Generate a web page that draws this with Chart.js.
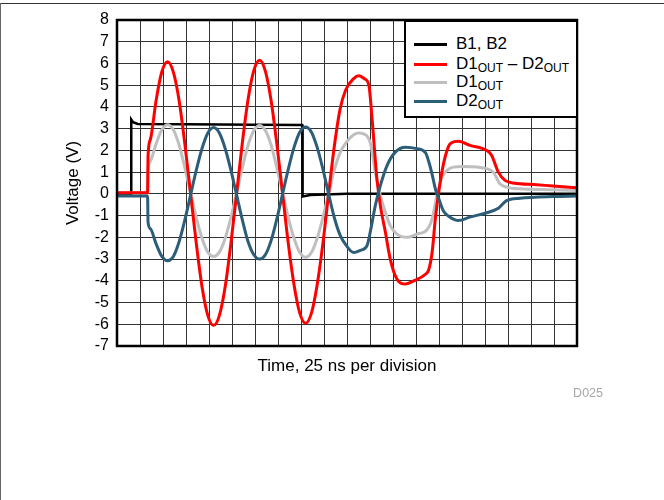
<!DOCTYPE html>
<html>
<head>
<meta charset="utf-8">
<script src="https://cdn.jsdelivr.net/npm/chart.js@4.4.1/dist/chart.umd.min.js"></script>
<style>
  html, body { margin:0; padding:0; background:#fff; }
  #wrap { position:relative; width:664px; height:500px; overflow:hidden; font-family:'Liberation Sans', Arial, sans-serif; }
  #topline { position:absolute; left:0; top:3px; width:664px; height:1px; background:#333; }
  #leftline { position:absolute; left:0; top:3px; width:1px; height:497px; background:#666; }
  #legend { position:absolute; left:404px; top:20px; width:174px; height:98px; box-sizing:border-box; border:2px solid #000; background:#fff; font-size:17px; color:#000; }
  .row { position:absolute; left:0; height:20px; width:170px; }
  .swatch { position:absolute; left:8px; top:9px; width:33px; height:3px; }
  .lbl { position:absolute; left:50px; top:0; line-height:20px; white-space:nowrap; }
  .lbl sub { font-size:12px; vertical-align:-3px; line-height:0; }
  #code { position:absolute; left:553px; top:386px; width:50px; text-align:right; font-size:12.5px; color:#a6a6a6; line-height:15px; }
</style>
</head>
<body>
<div id="wrap">
  <canvas id="c" width="664" height="500"></canvas>
  <div id="topline"></div>
  <div id="leftline"></div>
  <div id="legend"></div>
  <div id="code">D025</div>
</div>
<script>
// Time axis in divisions (25 ns per division)
const xMin = 0, xMax = 20;
const yMin = -7, yMax = 8;

const seriesNames = ['B1, B2', 'D1<sub>OUT</sub> – D2<sub>OUT</sub>', 'D1<sub>OUT</sub>', 'D2<sub>OUT</sub>'];
const seriesColors = ['#000000', '#ff0000', '#bfbfbf', '#2c5d79'];

// B1, B2
const blackT = [0, 0.61, 0.62, 0.7, 0.9, 3, 6, 8.05, 8.07, 8.4, 10, 15, 20];
const blackV = [0, 0, 3.42, 3.3, 3.22, 3.2, 3.18, 3.17, -0.12, -0.05, 0, 0, 0];

// D1OUT - D2OUT
const redT = [0, 1.33, 1.35, 1.45, 1.7, 1.95, 2.2, 2.45, 2.7, 2.95,
  3.2, 3.45, 3.7, 3.95, 4.2, 4.45, 4.7, 4.95, 5.2, 5.45,
  5.7, 5.95, 6.2, 6.45, 6.7, 6.95, 7.2, 7.45, 7.7, 7.95,
  8.2, 8.45, 8.7, 8.95, 9.2, 9.45, 9.7, 9.95, 10.29, 10.51,
  10.75, 10.95, 11.09, 11.3, 11.45, 11.67, 11.88, 12.17, 12.54, 12.9,
  13.41, 13.55, 13.7, 13.84, 13.99, 14.2, 14.42, 14.55, 14.84, 15.35,
  16.07, 16.29, 16.58, 16.87, 17.23, 18.25, 18.97, 20];
const redV = [0.05, 0.05, 1.75, 2.5, 4.3, 5.62, 6.08, 5.6, 4.3, 2.3,
  0, -2.3, -4.3, -5.6, -6.05, -5.6, -4.3, -2.3, 0, 2.35,
  4.35, 5.68, 6.15, 5.65, 4.3, 2.3, 0, -2.3, -4.2, -5.5,
  -5.95, -5.5, -4.2, -2.3, 0, 2.2, 3.9, 4.8, 5.3, 5.43,
  5.3, 5.0, 3.46, 0.7, -0.54, -1.77, -3.0, -3.92, -4.15, -4.0,
  -3.7, -3.5, -2.7, -1.15, 0.1, 1.4, 2.2, 2.35, 2.42, 2.23,
  2.0, 1.77, 1.0, 0.62, 0.5, 0.42, 0.36, 0.28];

// D1OUT
const grayT = [0, 1.33, 1.35, 1.45, 1.7, 1.95, 2.2, 2.45, 2.7, 2.95,
  3.2, 3.45, 3.7, 3.95, 4.2, 4.45, 4.7, 4.95, 5.2, 5.45,
  5.7, 5.95, 6.2, 6.45, 6.7, 6.95, 7.2, 7.45, 7.7, 7.95,
  8.2, 8.45, 8.7, 8.95, 9.2, 9.45, 9.7, 9.95, 10.29, 10.51,
  10.87, 11.04, 11.23, 11.45, 11.67, 11.88, 12.17, 12.61, 13.04, 13.48,
  13.7, 13.91, 14.13, 14.35, 14.62, 15.06, 16.07, 16.36, 16.65, 16.94,
  17.52, 18.97, 20];
const grayV = [0.05, 0.05, 1.08, 1.5, 2.3, 2.95, 3.18, 2.95, 2.25, 1.2,
  0.05, -1.1, -2.05, -2.68, -2.88, -2.68, -2.05, -1.1, 0.05, 1.2,
  2.25, 2.92, 3.15, 2.92, 2.25, 1.2, 0.05, -1.1, -2.05, -2.7,
  -2.92, -2.7, -2.05, -1.1, 0, 1.1, 1.9, 2.35, 2.72, 2.8,
  2.66, 2.23, 1.0, -0.08, -0.85, -1.46, -1.85, -2.0, -1.85, -1.65,
  -1.15, -0.08, 0.77, 1.08, 1.23, 1.26, 1.16, 1.0, 0.46, 0.31,
  0.23, 0.19, 0.15];

// D2OUT
const blueT = [0, 1.33, 1.35, 1.45, 1.7, 1.95, 2.2, 2.45, 2.7, 2.95,
  3.2, 3.45, 3.7, 3.95, 4.2, 4.45, 4.7, 4.95, 5.2, 5.45,
  5.7, 5.95, 6.2, 6.45, 6.7, 6.95, 7.2, 7.45, 7.7, 7.95,
  8.2, 8.45, 8.7, 8.95, 9.2, 9.45, 9.7, 9.95, 10.29, 10.58,
  10.87, 11.04, 11.23, 11.45, 11.74, 12.1, 12.54, 13.04, 13.41, 13.55,
  13.7, 13.85, 14.0, 14.2, 14.45, 14.7, 14.84, 15.34, 16.07, 16.58,
  16.94, 17.52, 18.97, 20];
const blueV = [-0.1, -0.1, -1.3, -1.6, -2.3, -2.88, -3.08, -2.88, -2.2, -1.2,
  -0.05, 1.1, 2.1, 2.8, 3.05, 2.8, 2.1, 1.1, -0.05, -1.2,
  -2.2, -2.8, -3.0, -2.8, -2.15, -1.15, 0, 1.15, 2.15, 2.85,
  3.08, 2.85, 2.15, 1.15, 0, -1.1, -1.9, -2.35, -2.7, -2.6,
  -2.38, -1.6, -0.54, 0.38, 1.3, 1.92, 2.15, 2.08, 1.9, 1.5,
  0.9, 0.2, -0.25, -0.8, -1.05, -1.2, -1.23, -1.07, -0.87, -0.66,
  -0.31, -0.2, -0.12, -0.1];

function pts(ts, vs) { return ts.map((t, i) => ({ x: t, y: vs[i] })); }

// HTML legend (for subscripts)
const legend = document.getElementById('legend');
const rowTops = [12, 31.5, 50, 69];
seriesNames.forEach((name, i) => {
  const r = document.createElement('div');
  r.className = 'row';
  r.style.top = rowTops[i] + 'px';
  r.innerHTML = '<span class="swatch" style="background:' + seriesColors[i] + '"></span><span class="lbl">' + name + '</span>';
  legend.appendChild(r);
});

Chart.defaults.font.family = "'Liberation Sans', Arial, sans-serif";
Chart.defaults.color = '#000';

const frame = {
  id: 'frame',
  afterDatasetsDraw(chart) {
    const a = chart.chartArea, ctx = chart.ctx;
    ctx.save();
    ctx.strokeStyle = '#000';
    ctx.lineWidth = 2.5;
    ctx.strokeRect(a.left, a.top, a.right - a.left, a.bottom - a.top);
    ctx.restore();
  }
};

const common = { pointRadius: 0, fill: false, borderWidth: 3, cubicInterpolationMode: 'monotone' };

new Chart(document.getElementById('c'), {
  type: 'line',
  data: {
    datasets: [
      Object.assign({ label: 'D2OUT', data: pts(blueT, blueV), borderColor: seriesColors[3], order: 0 }, common),
      Object.assign({ label: 'D1OUT – D2OUT', data: pts(redT, redV), borderColor: seriesColors[1], order: 1 }, common),
      Object.assign({ label: 'D1OUT', data: pts(grayT, grayV), borderColor: seriesColors[2], order: 2 }, common),
      Object.assign({}, common, { label: 'B1, B2', data: pts(blackT, blackV), borderColor: seriesColors[0], borderWidth: 2.5, cubicInterpolationMode: 'default', tension: 0, order: 3 })
    ]
  },
  options: {
    responsive: false,
    animation: false,
    events: [],
    layout: { padding: { left: 63, right: 87, top: 20, bottom: 123 } },
    plugins: { legend: { display: false }, tooltip: { enabled: false } },
    scales: {
      x: {
        type: 'linear', min: xMin, max: xMax,
        ticks: { display: false, stepSize: 1, autoSkip: false },
        grid: { color: '#333', lineWidth: 1, drawTicks: false },
        border: { display: false },
        title: { display: true, text: 'Time, 25 ns per division', font: { size: 17 }, color: '#000', padding: 0 },
        afterFit(s) { s.height = 31; }
      },
      y: {
        type: 'linear', min: yMin, max: yMax,
        ticks: { stepSize: 1, autoSkip: false, font: { size: 16 }, color: '#000', padding: 8 },
        grid: { color: '#333', lineWidth: 1, drawTicks: false },
        border: { display: false },
        title: { display: true, text: 'Voltage (V)', font: { size: 17 }, color: '#000', padding: 0 },
        afterFit(s) { s.width = 54; }
      }
    }
  },
  plugins: [frame]
});
</script>
</body>
</html>
